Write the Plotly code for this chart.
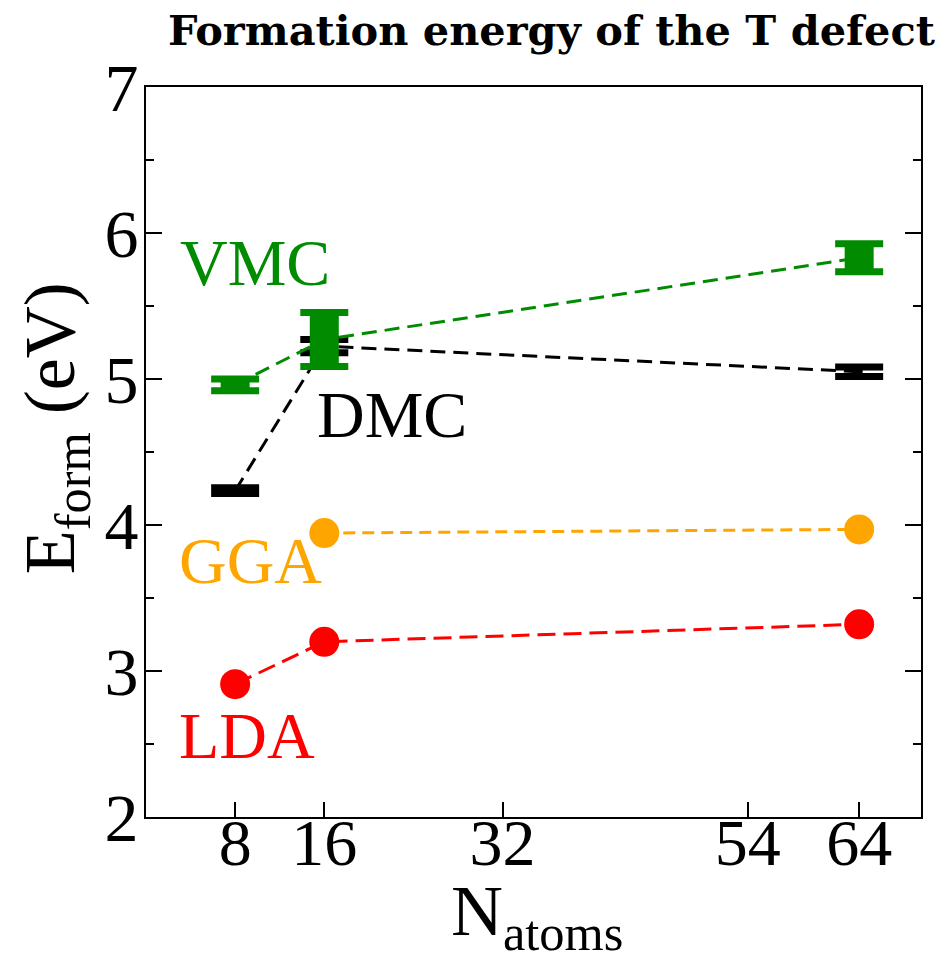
import plotly.graph_objects as go

# ---- data ----
n_vmc = [8, 16, 64]
e_vmc = [4.96, 5.27, 5.83]
err_vmc = [0.04, 0.185, 0.096]

n_dmc = [8, 16, 64]
e_dmc = [4.235, 5.225, 5.05]
err_dmc = [0.02, 0.045, 0.033]

n_gga = [16, 64]
e_gga = [3.945, 3.97]

n_lda = [8, 16, 64]
e_lda = [2.91, 3.20, 3.32]

x_ticks = [8, 16, 32, 54, 64]

GREEN = "#008B00"
ORANGE = "#FFA500"
RED = "#FF0000"
BLACK = "#000000"
FONT = "Liberation Serif"

fig = go.Figure()


def qmc(xs, ys, errs, color, stem):
    # dashed connecting line
    fig.add_trace(go.Scatter(x=xs, y=ys, mode="lines",
                             line=dict(color=color, width=3, dash="15px,8px"),
                             hoverinfo="skip", showlegend=False))
    if stem:
        fig.add_trace(go.Scatter(x=xs, y=ys, mode="markers",
                                 marker=dict(size=1, color="rgba(0,0,0,0)"),
                                 error_y=dict(type="data", array=errs, visible=True,
                                              color=color, thickness=29, width=0),
                                 showlegend=False))
    fig.add_trace(go.Scatter(x=xs, y=ys, mode="markers",
                             marker=dict(size=1, color="rgba(0,0,0,0)"),
                             error_y=dict(type="data", array=errs, visible=True,
                                          color=color, thickness=7, width=24),
                             showlegend=False))


qmc(n_dmc, e_dmc, err_dmc, BLACK, False)
qmc(n_vmc, e_vmc, err_vmc, GREEN, True)

fig.add_trace(go.Scatter(x=n_gga, y=e_gga, mode="lines+markers",
                         line=dict(color=ORANGE, width=3, dash="12px,7px"),
                         marker=dict(size=30, color=ORANGE), showlegend=False))
fig.add_trace(go.Scatter(x=n_lda, y=e_lda, mode="lines+markers",
                         line=dict(color=RED, width=3, dash="18px,8px"),
                         marker=dict(size=30, color=RED), showlegend=False))

labels = [("VMC", 2.9, 5.80, GREEN), ("DMC", 15.2, 4.76, BLACK),
          ("GGA", 2.8, 3.76, ORANGE), ("LDA", 2.8, 2.555, RED)]
ann = []
for t, x, y, c in labels:
    ann.append(dict(text=t, x=x, y=y, xref="x", yref="y", xanchor="left",
                    yanchor="middle", showarrow=False,
                    font=dict(family=FONT, size=66, color=c)))

ann.append(dict(text="N<sub>atoms</sub>", x=0.5045, y=-0.136, xref="paper", yref="paper",
                xanchor="center", yanchor="middle", showarrow=False,
                font=dict(family=FONT, size=72, color="black")))
ann.append(dict(text="E<sub>form</sub> (eV)", x=-0.117, y=0.533, xref="paper", yref="paper",
                xanchor="center", yanchor="middle", showarrow=False, textangle=-90,
                font=dict(family=FONT, size=72, color="black")))
ann.append(dict(text="Formation energy of the T defect", x=1.02, y=1.078,
                xref="paper", yref="paper", xanchor="right", yanchor="middle",
                showarrow=False,
                font=dict(family="DejaVu Serif", size=41.5, color="black", weight="bold")))

fig.update_layout(
    width=950, height=962,
    margin=dict(l=146, r=29, t=87, b=145),
    plot_bgcolor="white", paper_bgcolor="white",
    annotations=ann,
    showlegend=False,
)
fig.update_xaxes(range=[0, 69.55], tickvals=x_ticks, ticks="inside", ticklen=15,
                 tickwidth=2, tickcolor="black", showline=True, linecolor="black",
                 linewidth=2, mirror=True, showgrid=False, zeroline=False,
                 ticklabelstandoff=-33,
                 tickfont=dict(family=FONT, size=66, color="black"))
fig.update_yaxes(range=[2, 7], dtick=1, ticks="inside", ticklen=16, tickwidth=2,
                 tickcolor="black", showline=True, linecolor="black", linewidth=2,
                 mirror="ticks", showgrid=False, zeroline=False,
                 ticklabelstandoff=-8,
                 minor=dict(dtick=0.5, ticks="inside", ticklen=8, tickwidth=2,
                            tickcolor="black", showgrid=False),
                 tickfont=dict(family=FONT, size=68, color="black"))

fig.write_html("out.html")
